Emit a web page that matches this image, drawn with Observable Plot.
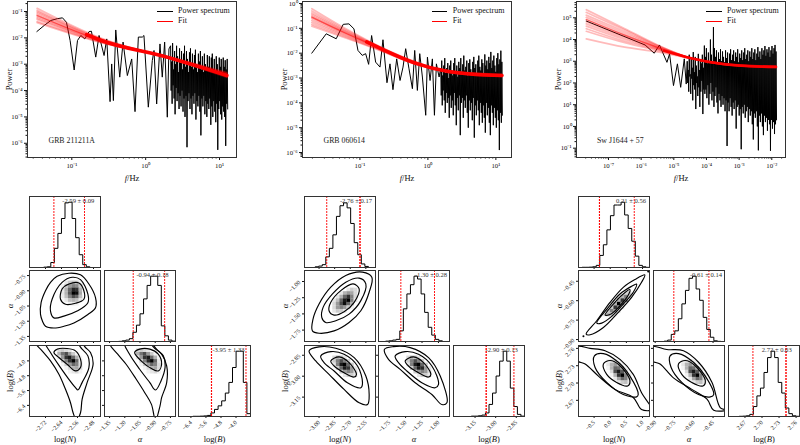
<!DOCTYPE html>
<html><head><meta charset="utf-8">
<script src="https://cdn.jsdelivr.net/npm/d3@7"></script>
<script src="https://cdn.jsdelivr.net/npm/@observablehq/plot@0.6"></script>
<style>
html,body{margin:0;padding:0;background:#fff;overflow:hidden}
#root{position:relative;width:800px;height:445px;font-family:"Liberation Serif",serif;color:#111}
#root svg{position:absolute;max-width:none;height:auto}
.lg{position:absolute;font-size:8px;line-height:10px;white-space:nowrap}
.sw{position:absolute;height:1.2px}
</style></head><body><div id="root"></div>
<script>
// ---------- spectra (log10 f, log10 P) ----------
const s1F=[-1.473,-1.374,-1.284,-1.194,-1.126,-1.072,-1.023,-.968,-.923,-.878,-.824,-.766,-.734,-.676,-.631,-.563,-.527,-.482,-.46,-.437,-.405,-.351,-.306,-.248,-.189,-.144,-.099,-.045,-.023,.036,.09,.113,.149,.194,.225,.257,.293,.315];
const s1P=[-1.76,-1.53,-1.34,-1.27,-1.24,-1.41,-2.10,-3.22,-2.10,-1.91,-2.04,-1.76,-1.75,-2.73,-1.91,-2.67,-2.04,-4.42,-2.99,-4.38,-1.70,-3.49,-2.16,-3.43,-2.80,-4.80,-1.97,-1.97,-1.91,-4.63,-2.86,-2.48,-4.51,-2.23,-3.49,-2.16,-5.01,-2.42];
const s1Range=[.338,1.104];
const s1Hi=[-2.3,-2.9,-2.2,-3.2,-2.5,-3.0,-2.3,-2.7,-3.3,-2.4,-2.95,-2.5,-3.2,-2.6,-2.3,-3.1,-2.5,-2.8,-3.3,-2.55,-2.4,-3.1,-2.6,-3.2,-2.65,-2.45,-3.0,-3.3,-2.6,-2.9,-2.5,-3.2,-2.7,-3.3,-2.6,-3.0,-3.2,-2.65,-3.1,-2.7,-3.3,-2.75,-2.6,-3.2,-2.8,-3.3,-2.7,-3.0,-3.3,-2.75,-3.1,-2.8,-3.3,-2.75,-3.1,-2.85,-3.2,-2.8];
const s1Lo=[-4.0,-4.5,-3.8,-4.3,-4.9,-3.9,-4.4,-4.1,-4.7,-4.2,-4.6,-4.0,-4.8,-4.3,-5.0,-4.2,-6.15,-4.4,-4.1,-4.7,-4.3,-4.9,-4.2,-4.5,-4.1,-5.1,-4.4,-4.6,-4.2,-4.8,-5.7,-4.3,-4.6,-4.2,-4.9,-4.4,-5.0,-4.5,-4.7,-4.3,-5.3,-4.6,-5.0,-4.4,-4.8,-5.2,-4.5,-6.25,-4.7,-4.4,-4.9,-5.1,-4.6,-4.8,-5.0,-6.1,-4.5,-4.7];

const s2F=[-1.708,-1.496,-1.349,-1.246,-1.162,-1.088,-1.029,-.966,-.916,-.872,-.828,-.769,-.705,-.661,-.602,-.558,-.514,-.459,-.410,-.366,-.327,-.278,-.228,-.194,-.155,-.120,-.081,-.032,-.007,.032,.066,.096,.125,.165];
const s2P=[-2.0,-1.22,-1.42,-.84,-.82,-1.02,-1.89,-2.09,-2.02,-2.45,-1.29,-2.36,-2.56,-1.46,-3.19,-2.43,-3.47,-2.23,-3.10,-2.56,-1.82,-2.63,-3.43,-1.89,-3.50,-2.02,-2.96,-4.50,-2.16,-3.10,-2.23,-4.50,-2.43,-2.96];
const s2Range=[.189,1.088];
const s2Hi=[-2.6,-2.3,-2.9,-2.5,-2.2,-2.8,-2.6,-2.4,-3.0,-2.5,-2.3,-2.7,-2.9,-2.4,-2.2,-2.75,-2.5,-2.95,-2.35,-2.6,-2.2,-2.8,-2.45,-2.1,-2.7,-2.55,-2.3,-2.9,-2.4,-2.25,-2.65,-2.85,-2.35,-2.15,-2.6,-2.45,-2.8,-2.3,-2.1,-2.55,-2.7,-2.25,-2.4,-2.9,-2.05,-2.5,-2.3,-2.65,-2.15,-2.4,-1.95,-2.6,-2.3,-2.1,-2.5,-2.75,-2.2,-2.0,-2.45,-2.25,-1.9,-2.35];
const s2Lo=[-3.7,-4.1,-3.5,-3.9,-4.4,-3.6,-4.0,-3.8,-4.6,-3.7,-4.2,-3.9,-4.5,-3.6,-4.1,-4.9,-3.8,-4.3,-3.7,-5.3,-4.0,-3.8,-4.6,-3.9,-4.2,-3.7,-4.4,-5.0,-3.9,-4.3,-4.0,-4.7,-3.8,-5.4,-4.1,-4.5,-3.9,-4.3,-4.9,-4.0,-4.4,-4.8,-4.1,-4.6,-5.2,-4.0,-4.5,-4.2,-4.8,-5.3,-4.1,-4.4,-4.9,-4.2,-4.6,-5.0,-4.3,-4.7,-5.9,-4.4,-4.8,-4.5];

const s3F=[-7.68,-5.88,-5.60,-5.44,-5.21,-5.13,-5.01,-4.89,-4.79,-4.68,-4.62];
const s3P=[4.85,3.75,3.37,3.75,2.95,3.34,1.88,2.88,1.80,3.11,1.95];
const s3Range=[-4.59,-1.87];
const s3Hi=[3.0,2.6,3.3,2.4,3.1,2.7,3.42,2.5,3.2,2.8,2.3,3.34,2.6,3.0,2.9,3.3,2.7,3.72,3.2,3.6,2.9,3.4,3.0,4.0,3.3,2.9,4.57,3.6,3.2,3.5,2.9,3.4,3.1,3.55,3.0,3.45,3.2,2.95,3.5,3.15,3.4,2.9,3.35,3.55,3.05,3.3,3.5,3.0,3.4,3.2,3.55,2.95,3.35,3.15,3.5,3.05,3.4,3.6,3.1,3.3,3.5,3.0,3.45,3.2,3.6,3.1,3.4,3.55,3.05,3.35,3.65,3.2,3.45,3.1,3.6,3.3,3.5,3.7,3.25,3.55,3.4,3.65,3.2,3.5,3.7,3.35,3.6,3.75,3.45];
const s3Lo=[2.0,1.6,2.3,1.5,2.2,1.2,1.9,1.7,0.8,2.0,1.4,1.8,0.9,1.6,2.1,0.57,1.7,1.5,1.7,1.3,1.9,1.0,1.5,2.0,1.2,1.6,0.9,1.4,1.8,1.1,0.6,1.5,1.2,0.9,1.4,1.0,1.3,0.7,1.2,-0.9,1.1,0.7,1.3,0.9,0.5,1.1,0.8,1.2,-0.1,0.9,1.0,0.5,0.8,-1.05,0.9,0.6,1.0,0.4,0.7,0.9,0.2,0.8,0.5,0.7,0.1,-0.6,0.6,0.4,0.7,0.0,-1.1,0.5,0.2,0.6,0.0,-0.4,0.5,0.2,0.4,-0.2,0.3,0.1,-1.12,0.3,-0.1,0.2,-0.35,0.1,0.3];

// ---------- fitted model draws (log10 P at knots) ----------
const fit1Knots=[-1.47,-0.6,0.3,1.1];
const fit1Lines=[[-0.88,-2.02,-2.76,-3.50],[-0.95,-2.04,-2.76,-3.47],[-1.00,-2.06,-2.75,-3.45],[-1.05,-2.07,-2.74,-3.44],[-1.10,-2.09,-2.74,-3.43],[-1.15,-2.10,-2.74,-3.42],[-1.20,-2.12,-2.73,-3.40],[-1.25,-2.13,-2.73,-3.38],[-1.30,-2.15,-2.72,-3.36],[-1.38,-2.17,-2.72,-3.33],[-1.42,-2.18,-2.71,-3.32]];
const fit1CoreF=[-0.8,-0.6,0.3,1.1], fit1Core=[-1.88,-2.10,-2.74,-3.43];
const fit2Knots=[-1.708,-1.2,-.7,-.2,.3,1.09];
const fit2Lines=[[-0.21,-1.03,-1.74,-2.33,-2.76,-2.94],[-0.30,-1.08,-1.76,-2.34,-2.75,-2.93],[-0.38,-1.12,-1.78,-2.36,-2.75,-2.92],[-0.44,-1.15,-1.79,-2.37,-2.74,-2.91],[-0.50,-1.18,-1.80,-2.38,-2.74,-2.90],[-0.55,-1.21,-1.81,-2.39,-2.74,-2.90],[-0.60,-1.24,-1.83,-2.40,-2.73,-2.89],[-0.68,-1.28,-1.84,-2.40,-2.72,-2.88],[-0.76,-1.32,-1.86,-2.41,-2.72,-2.87],[-0.84,-1.36,-1.88,-2.42,-2.71,-2.86],[-0.91,-1.40,-1.90,-2.43,-2.70,-2.85]];
const fit2CoreF=[-0.9,-.7,-.2,.3,.7,1.09], fit2Core=[-1.55,-1.81,-2.39,-2.74,-2.86,-2.90];
const fit3Knots=[-7.68,-6.5,-5.5,-4.5,-3.5,-1.87];
const fit3Lines=[[5.37,4.50,3.75,3.15,2.85,2.72],[5.25,4.44,3.73,3.15,2.85,2.72],[5.12,4.36,3.70,3.15,2.86,2.73],[5.02,4.28,3.67,3.15,2.86,2.73],[4.92,4.20,3.64,3.15,2.87,2.74],[4.82,4.14,3.62,3.15,2.87,2.74],[4.72,4.07,3.59,3.15,2.88,2.74],[4.62,4.00,3.57,3.15,2.88,2.75],[4.50,3.92,3.54,3.14,2.89,2.75],[4.38,3.85,3.50,3.14,2.89,2.76],[4.03,3.65,3.43,3.13,2.90,2.76]];
const fit3CoreF=[-5.3,-4.5,-3.5,-2.7,-1.87], fit3Core=[3.48,3.15,2.87,2.77,2.74];

// ---------- corner plot: axis ranges and ticks ----------
const rN1=[-2.80,-2.445], rA1=[-1.40,-0.70], rA1x=[-1.40,-0.70], rB1=[-7.0,-3.17], rB1x=[-7.06,-3.23];
const tN1=[-2.72,-2.64,-2.56,-2.48], tA1=[-1.35,-1.20,-1.05,-0.90,-0.75], tB1=[-6.4,-5.6,-4.8,-4.0];
const rN2=[-3.14,-2.457], rA2=[-1.926,-.83], rA2x=[-1.912,-.832], rB2=[-3.289,-2.78], rB2x=[-3.307,-2.79];
const tN2=[-3.00,-2.85,-2.70,-2.55], tA2=[-1.75,-1.50,-1.25,-1.00], tB2=[-3.15,-3.00,-2.85];
const rN3=[-.983,1.216], rA3=[-.915,-.367], rA3x=[-.913,-.361], rB3=[2.642,2.765], rB3x=[2.641,2.766];
const tN3=[-0.5,0,0.5,1.0], tA3=[-.90,-.75,-.60,-.45], tB3=[2.67,2.70,2.73,2.76];

// ---------- histograms (20 bins, relative height) ----------
const h1N=[0,0,0,0,.005,.01,.07,.27,.48,.69,.91,.92,.69,.42,.18,.04,.01,0,0,0];
const h1A=[0,0,0,0,.002,.01,.02,.04,.13,.23,.39,.6,.79,.92,.92,.79,.22,.08,.02,.005];
const h1B=[0,0,0,0,.003,.003,.005,.008,.015,.05,.1,.15,.22,.33,.48,.69,.92,.92,.48,.04];
const h2N=[0,0,0,.01,.02,.04,.15,.27,.46,.72,.87,.91,.84,.62,.35,.18,.05,.015,0,0];
const h2A=[0,0,.005,.01,.02,.03,.15,.46,.67,.80,.92,.88,.67,.41,.2,.09,.03,.01,0,0];
const h2B=[0,0,0,0,0,.005,.005,.01,.02,.05,.17,.33,.57,.78,.92,.78,.4,.14,.03,.005];
const h3N=[0,.003,.003,.005,.01,.03,.17,.32,.53,.73,.88,.88,.92,.74,.55,.37,.16,.03,.01,.002];
const h3A=[0,0,0,.005,.02,.1,.15,.32,.53,.72,.89,.92,.74,.58,.34,.17,.06,.01,.002,0];
const h3B=[0,0,0,.003,.005,.01,.03,.14,.29,.4,.62,.83,.92,.83,.48,.33,.12,.04,.01,.003];

// ---------- quantile lines and labels ----------
const q1=[[-2.678,-2.525],[-1.117,-.807],[-5.31,-5.30,-3.47]];
const q2=[[-2.926,-2.608,-2.604],[-1.572,-1.06],[-3.07,-3.068,-2.867]];
const q3=[[-.336,-.332,.744],[-.755,-.482],[2.684,2.742,2.7425]];
const lab1=["-2.59 ± 0.09","-0.94 ± 0.18","-3.95 ± 1.33"];
const lab2=["-2.76 ± 0.17","-1.30 ± 0.28","-2.90 ± 0.13"];
const lab3=["0.21 ± 0.56","-0.61 ± 0.14","2.72 ± 0.03"];

// ---------- contours: [outer x, outer y, middle x, middle y, inner x, inner y] ----------
const c1AN=[[-2.745,-2.742,-2.72,-2.695,-2.662,-2.603,-2.545,-2.503,-2.47,-2.47,-2.508,-2.578,-2.628,-2.678,-2.72,-2.735],[-1.133,-1.017,-.90,-.817,-.757,-.727,-.743,-.833,-.967,-1.067,-1.133,-1.217,-1.25,-1.267,-1.25,-1.20],
 [-2.695,-2.687,-2.637,-2.587,-2.545,-2.508,-2.508,-2.562,-2.628,-2.678],[-1.10,-.983,-.817,-.767,-.79,-.933,-1.017,-1.10,-1.15,-1.167],
 [-2.645,-2.637,-2.603,-2.553,-2.528,-2.528,-2.57,-2.62],[-.983,-.883,-.833,-.823,-.90,-.983,-1.023,-1.033]];
const c1BN=[[-2.77,-2.737,-2.695,-2.653,-2.62,-2.595,-2.582,-2.565,-2.545,-2.537,-2.512,-2.482,-2.495,-2.52,-2.545],[-3.0,-3.458,-4.0,-4.722,-5.534,-6.256,-6.798,-7.2,-6.798,-6.076,-5.173,-4.18,-3.549,-3.278,-3.0],
 [-2.72,-2.695,-2.645,-2.603,-2.57,-2.558,-2.537,-2.503,-2.508,-2.537,-2.57],[-3.0,-3.549,-4.361,-4.993,-5.444,-5.57,-5.173,-4.361,-3.729,-3.368,-3.0],
 [-2.678,-2.662,-2.612,-2.57,-2.545,-2.545,-2.57,-2.612,-2.653],[-3.549,-3.368,-3.332,-3.458,-3.91,-4.361,-4.542,-4.18,-3.819]];
const c1BA=[[-1.353,-1.27,-1.187,-1.087,-1.003,-.937,-.897,-.853,-.837,-.787,-.787,-.837,-.903,-.97],[-3.0,-3.639,-4.18,-4.993,-5.715,-6.347,-7.2,-6.437,-5.986,-5.173,-4.271,-3.639,-3.332,-3.0],
 [-1.203,-1.153,-1.053,-.953,-.897,-.843,-.803,-.82,-.887,-.953],[-3.0,-3.639,-4.451,-5.173,-5.57,-5.083,-4.361,-3.729,-3.368,-3.0],
 [-1.103,-1.053,-.953,-.87,-.837,-.87,-.937,-1.02],[-3.549,-3.368,-3.368,-3.639,-4.18,-4.542,-4.415,-4.09]];
const c2AN=[[-3.064,-3.058,-3,-2.887,-2.743,-2.582,-2.492,-2.518,-2.598,-2.711,-2.855,-3],[-1.762,-1.58,-1.347,-1.088,-.907,-.855,-.933,-1.166,-1.451,-1.632,-1.762,-1.798],
 [-2.974,-2.961,-2.871,-2.743,-2.614,-2.55,-2.598,-2.711,-2.839,-2.936],[-1.554,-1.399,-1.192,-1.01,-.948,-1.036,-1.295,-1.503,-1.606,-1.632],
 [-2.904,-2.887,-2.791,-2.672,-2.614,-2.662,-2.759,-2.855],[-1.451,-1.321,-1.14,-1.036,-1.114,-1.321,-1.466,-1.518]];
const c2BN=[[-3.096,-3,-2.839,-2.662,-2.55,-2.518,-2.534,-2.614,-2.759,-2.904,-3.032],[-2.819,-2.79,-2.80,-2.867,-2.999,-3.131,-3.203,-3.191,-3.095,-2.987,-2.891],
 [-2.984,-2.887,-2.759,-2.63,-2.582,-2.598,-2.727,-2.855,-2.952],[-2.855,-2.824,-2.843,-2.927,-3.047,-3.083,-3.047,-2.963,-2.903],
 [-2.887,-2.807,-2.711,-2.64,-2.662,-2.759,-2.855],[-2.891,-2.862,-2.903,-2.987,-3.006,-2.975,-2.927]];
const c2BA=[[-1.821,-1.684,-1.43,-1.151,-.973,-.872,-.948,-1.10,-1.354,-1.582,-1.76],[-2.807,-2.788,-2.795,-2.867,-2.999,-3.191,-3.203,-3.131,-3.047,-2.951,-2.879],
 [-1.659,-1.506,-1.303,-1.10,-.999,-1.05,-1.253,-1.481,-1.608],[-2.855,-2.824,-2.843,-2.927,-3.059,-3.083,-3.047,-2.963,-2.903],
 [-1.506,-1.379,-1.227,-1.115,-1.151,-1.303,-1.456],[-2.891,-2.862,-2.903,-2.987,-3.006,-2.975,-2.927]];
const c3AN=[[-.747,-.418,-.007,.404,.764,1.072,.97,.661,.25,-.212,-.623],[-.858,-.755,-.613,-.497,-.437,-.401,-.458,-.574,-.69,-.807,-.863],
 [-.418,-.058,.302,.661,.815,.713,.404,.045,-.264],[-.773,-.652,-.548,-.489,-.471,-.535,-.626,-.721,-.773],
 [-.161,.096,.404,.61,.559,.302,.024],[-.711,-.626,-.548,-.515,-.556,-.639,-.703]];
const c3BN=[[-1.034,-.623,-.161,.302,.713,.97,1.278,.97,.713,.147,-.366,-.777,-1.034],[2.763,2.76,2.756,2.741,2.715,2.683,2.654,2.654,2.675,2.689,2.712,2.733,2.739],
 [-.49,-.212,.25,.61,.867,.815,.404,-.109,-.469],[2.747,2.751,2.736,2.712,2.68,2.676,2.68,2.701,2.727],
 [-.212,-.007,.302,.61,.538,.199,-.109],[2.733,2.739,2.73,2.704,2.695,2.701,2.715]];
const c3BA=[[-.927,-.81,-.68,-.563,-.458,-.393,-.341,-.445,-.497,-.615,-.758,-.862,-.927],[2.763,2.758,2.756,2.736,2.701,2.657,2.653,2.653,2.672,2.689,2.709,2.733,2.739],
 [-.784,-.719,-.602,-.51,-.445,-.471,-.563,-.693,-.776],[2.747,2.751,2.736,2.712,2.68,2.676,2.68,2.701,2.727],
 [-.719,-.667,-.589,-.51,-.529,-.615,-.693],[2.733,2.739,2.73,2.704,2.695,2.701,2.715]];
const out3ANx=[-.83,1.175], out3ANy=[-.875,-.375];

// ---------- 2D histogram density: first column, first row (from top), rows ----------
const d1AN=[9,3,[[0,.1,.2,.25,.2,.05,0],[.05,.2,.4,.5,.45,.2,0],[.1,.3,.6,.85,.8,.3,.02],[.1,.3,.65,1,.95,.35,.02],[.08,.25,.5,.7,.6,.25,0],[.03,.1,.25,.3,.25,.1,0],[0,.02,.05,.08,.05,0,0]]];
const d1BN=[8,1,[[.15,.2,.15,.1,0,0,0],[.3,.55,.7,.4,.2,.05,0],[.1,.4,.8,.9,.6,.3,.05],[0,.2,.5,.8,1,.6,.1],[0,.05,.2,.4,.6,.5,.15],[0,0,.05,.15,.3,.35,.15],[0,0,0,.05,.1,.15,.05]]];
const d1BA=[9,1,[[.15,.2,.15,.1,0,0,0],[.3,.55,.7,.4,.2,.05,0],[.1,.4,.8,.9,.6,.3,.05],[0,.2,.5,.85,1,.6,.1],[0,.05,.2,.4,.6,.5,.15],[0,0,.05,.15,.3,.35,.15],[0,0,0,.05,.1,.15,.05]]];
const d2AN=[8,5,[[0,0,0,0,.1,.2,.15],[0,0,.1,.3,.4,.35,.15],[0,.1,.3,.6,.8,.5,.15],[.1,.25,.6,.9,1,.5,.1],[.15,.4,.7,.95,.6,.3,0],[.15,.4,.5,.4,.2,.05,0],[.1,.2,.2,.1,0,0,0]]];
const d2BN=[8,3,[[.15,.3,.25,.1,0,0,0],[.2,.5,.7,.5,.2,0,0],[.1,.5,.9,1,.6,.2,0],[0,.2,.6,.9,.8,.4,.1],[0,0,.2,.4,.5,.4,.15],[0,0,0,.1,.2,.2,.1]]];
const d2BA=[8,3,[[.15,.3,.25,.1,0,0,0],[.2,.5,.7,.5,.2,0,0],[.1,.5,.9,1,.6,.2,0],[0,.2,.6,.9,.85,.4,.1],[0,0,.2,.4,.5,.4,.15],[0,0,0,.1,.2,.2,.1]]];
const d3AN=[7,6,[[0,0,0,0,0,0,.15,.2],[0,0,0,0,.05,.3,.5,.2],[0,0,0,0,.3,.8,.5,0],[0,0,.05,.3,1,.5,0,0],[0,0,.2,.8,.5,.1,0,0],[0,.2,.5,.4,.1,0,0,0],[.1,.3,.2,.05,0,0,0,0]]];
const d3BN=[8,4,[[.05,.1,.15,.05,0,0,0],[.1,.3,.4,.25,.05,0,0],[.05,.3,.6,.55,.3,.05,0],[0,.15,.7,.9,.65,.25,.03],[0,.05,.3,.8,1,.5,.1],[0,0,.1,.35,.6,.5,.15],[0,0,0,.1,.2,.25,.1]]];
const d3BA=[8,4,[[.05,.1,.15,.05,0,0,0],[.1,.3,.4,.25,.05,0,0],[.05,.3,.6,.55,.3,.05,0],[0,.15,.7,.9,.65,.25,.03],[0,.05,.3,.8,1,.5,.1],[0,0,.1,.35,.6,.5,.15],[0,0,0,.1,.2,.25,.1]]];

// ---------- text ----------
const specNames=["GRB 211211A","GRB 060614","Sw J1644 + 57"];
const legendNames=["Power spectrum","Fit"];

// ---------- drawing ----------
const root=document.getElementById("root");
const FONT='"Liberation Serif",serif';
const SUP={"-":"⁻","0":"⁰","1":"¹","2":"²","3":"³","4":"⁴","5":"⁵","6":"⁶","7":"⁷"};
const pow10=d=>"10"+String(Math.round(Math.log10(d))).split("").map(c=>SUP[c]).join("");
function minorTicks(a,b){const t=[];for(let k=a;k<b;k++)for(let m=2;m<10;m++)t.push(m*10**k);return t;}
function put(svg,x,y){
  d3.select(svg).selectAll("text").each(function(){
    const t=this.textContent;
    const it=s=>`<tspan font-style="italic">${s}</tspan>`;
    if(t==="log(N)")this.innerHTML="log("+it("N")+")";
    if(t==="log(B)")this.innerHTML="log("+it("B")+")";
    if(t==="α")this.innerHTML=it("α");
    if(t==="f/Hz")this.innerHTML=it("f")+"/Hz";
  });
  svg.style.left=x+"px";svg.style.top=y+"px";root.appendChild(svg);
}
function topPanel(o){
  const ml=30,mb=28,mt=1,mr=1;
  const lin=[];
  o.f.forEach((v,i)=>lin.push({x:10**v,y:10**o.p[i]}));
  const n=Math.min(o.hi.length,o.lo.length),st=(o.range[1]-o.range[0])/(n-1);
  for(let i=0;i<n;i++){
    lin.push({x:10**(o.range[0]+i*st),y:10**o.hi[i]});
    lin.push({x:10**(o.range[0]+(i+.5)*st),y:10**o.lo[i]});
  }
  const fan=[];
  o.fits.forEach((l,j)=>l.forEach((v,i)=>fan.push({x:10**o.knots[i],y:10**v,z:j})));
  const core=o.coreF.map((v,i)=>({x:10**v,y:10**o.core[i]}));
  const centre=o.knots.map((v,i)=>({x:10**v,y:10**o.fits[o.mid][i]}));
  const svg=Plot.plot({
    width:Math.round(o.w)+ml+mr,height:156+mt+mb,marginLeft:ml,marginRight:mr,marginTop:mt,marginBottom:mb,
    style:{background:"none",overflow:"visible",fontFamily:FONT},
    x:{type:"log",domain:o.xd,axis:null},y:{type:"log",domain:o.yd,axis:null},
    marks:[
      Plot.line(lin,{x:"x",y:"y",stroke:"#000",strokeWidth:1,curve:"linear"}),
      Plot.line(fan,{x:"x",y:"y",z:"z",stroke:"#ff0000",strokeOpacity:.27,strokeWidth:1.7,curve:"monotone-x"}),
      Plot.line(centre,{x:"x",y:"y",stroke:"#f00",strokeOpacity:.5,strokeWidth:1.2,curve:"monotone-x"}),
      Plot.line(core,{x:"x",y:"y",stroke:"#f00",strokeWidth:o.coreW,curve:"monotone-x"}),
      Plot.axisX({ticks:minorTicks(o.xk[0]-1,o.xk[1]+1).filter(d=>d>=o.xd[0]&&d<=o.xd[1]),tickSize:1.5,tickFormat:()=>"",label:null}),
      Plot.axisY({ticks:minorTicks(o.yk[0]-1,o.yk[1]+1).filter(d=>d>=o.yd[0]&&d<=o.yd[1]),tickSize:1.5,tickFormat:()=>"",label:null}),
      Plot.axisX({ticks:d3.range(o.xk[0],o.xk[1]+1).map(k=>10**k),tickSize:3,tickPadding:3,tickFormat:pow10,fontSize:6.8,label:"f/Hz",labelArrow:"none",labelAnchor:"center",labelOffset:23}),
      Plot.axisY({ticks:d3.range(o.yk[0],o.yk[1]+1).map(k=>10**k),tickSize:3,tickPadding:2,tickFormat:pow10,fontSize:6.8,label:"Power",labelArrow:"none",labelAnchor:"center",labelOffset:o.yoff}),
      Plot.text([o.name],{frameAnchor:"bottom-left",dx:o.nameDx,dy:-15,fontSize:7.8,fill:"#222",textAnchor:"start"}),
      Plot.frame({stroke:"#333",strokeWidth:1})
    ]});
  d3.select(svg).selectAll('g[aria-label$="axis label"]').attr("font-size",8.5);
  put(svg,o.x-ml,1-mt);
  legendNames.forEach((nm,i)=>{
    const sw=document.createElement("div");sw.className="sw";
    sw.style.cssText=`left:${o.lgx}px;top:${11+i*10}px;width:15.5px;background:${i?"#f00":"#000"}`;
    root.appendChild(sw);
    const lb=document.createElement("div");lb.className="lg";lb.textContent=nm;
    lb.style.left=(o.lgx+21)+"px";lb.style.top=(6+i*10)+"px";root.appendChild(lb);
  });
}
topPanel({x:26.7,w:209.3,xd:[10**-1.6,10**1.23],yd:[10**-6.54,10**-.62],xk:[-1,1],yk:[-6,-1],f:s1F,p:s1P,range:s1Range,hi:s1Hi,lo:s1Lo,knots:fit1Knots,fits:fit1Lines,mid:5,coreF:fit1CoreF,core:fit1Core,coreW:3.6,name:specNames[0],nameDx:21,yoff:22,lgx:157});
topPanel({x:302,w:208.7,xd:[10**-1.845,10**1.23],yd:[10**-6.2,10**.08],xk:[-1,1],yk:[-6,0],f:s2F,p:s2P,range:s2Range,hi:s2Hi,lo:s2Lo,knots:fit2Knots,fits:fit2Lines,mid:5,coreF:fit2CoreF,core:fit2Core,coreW:3.6,name:specNames[1],nameDx:21,yoff:22,lgx:431.7});
topPanel({x:576.3,w:209,xd:[10**-7.98,10**-1.58],yd:[10**-1.43,10**5.75],xk:[-7,-2],yk:[-1,5],f:s3F,p:s3P,range:s3Range,hi:s3Hi,lo:s3Lo,knots:fit3Knots,fits:fit3Lines,mid:4,coreF:fit3CoreF,core:fit3Core,coreW:2.6,name:specNames[2],nameDx:20.5,yoff:22,lgx:706});

const ROWY=[195.7,270,344.7], PH=70.7;
function fmtFor(dec){return d=>d3.format("."+dec+"f")(d);}
function axes(o){
  const a=[];
  const base={tickSize:2,tickRotate:-45,fontSize:6};
  a.push(Plot.axisX({...base,ticks:o.xt,tickPadding:o.xLabel?3:0,tickFormat:o.xLabel?fmtFor(o.xdec):()=>"",label:o.xLabel||null,labelArrow:"none",labelAnchor:"center",labelOffset:25}));
  if(o.yt) a.push(Plot.axisY({...base,ticks:o.yt,tickPadding:o.yLabel?3:0,tickFormat:o.yLabel?fmtFor(o.ydec):()=>"",label:o.yLabel||null,labelArrow:"none",labelAnchor:"center",labelOffset:23}));
  return a;
}
function svgOf(o,marks){
  const ml=28,mb=30,mt=1,mr=1;
  const svg=Plot.plot({
    width:Math.round(o.w)+ml+mr,height:Math.round(PH)+mt+mb,marginLeft:ml,marginRight:mr,marginTop:mt,marginBottom:mb,
    style:{background:"none",overflow:"visible",fontFamily:FONT},clip:true,
    x:{domain:o.xr,axis:null},y:{domain:o.yr,axis:null},
    color:{type:"linear",domain:[0,1],range:["#ffffff","#000000"]},
    marks:[...marks,...axes(o),Plot.frame({stroke:"#333",strokeWidth:1})]});
  d3.select(svg).selectAll('g[aria-label$="axis label"]').attr("font-size",8.5);
  put(svg,o.x-ml,o.y-mt);
}
function histPanel(o,h,q,lab,dx){
  const bw=(o.xr[1]-o.xr[0])/20;
  const rows=h.map((v,i)=>({x:o.xr[0]+i*bw,y:v}));rows.push({x:o.xr[1],y:h[19]});
  svgOf({...o,yr:[0,1]},[
    Plot.line(rows,{x:"x",y:"y",stroke:"#000",strokeWidth:1,curve:"step-after"}),
    Plot.ruleX(q,{stroke:"#f00",strokeDasharray:"2,1",strokeWidth:.9}),
    Plot.text([lab],{frameAnchor:"top",dx,dy:2,fontSize:6.6,fill:"#333"})
  ]);
}
function pairPanel(o,c,d,extra){
  const bx=(o.xr[1]-o.xr[0])/20,by=(o.yr[1]-o.yr[0])/20,cells=[];
  d[2].forEach((row,r)=>row.forEach((v,k)=>{if(v>0){
    const i=d[0]+k,j=d[1]+r;
    cells.push({x1:o.xr[0]+i*bx,x2:o.xr[0]+(i+1)*bx,y1:o.yr[1]-(j+1)*by,y2:o.yr[1]-j*by,v});
  }}));
  const pts=[];
  for(let k=0;k<3;k++)c[2*k].forEach((x,i)=>pts.push({x,y:c[2*k+1][i],z:k}));
  svgOf(o,[
    Plot.rect(cells,{x1:"x1",x2:"x2",y1:"y1",y2:"y2",fill:"v",inset:-.1}),
    Plot.line(pts,{x:"x",y:"y",z:"z",stroke:"#000",strokeWidth:1.15,curve:"catmull-rom-closed"}),
    ...(extra||[])
  ]);
}
function corner(g){
  const [c0,c1,c2]=g.cols;
  const X=col=>({x:col[0],w:col[1]});
  histPanel({...X(c0),y:ROWY[0],xr:g.rN,xt:g.tN,yt:null},g.h[0],g.q[0],g.lab[0],g.dx[0]);
  pairPanel({...X(c0),y:ROWY[1],xr:g.rN,yr:g.rA,xt:g.tN,yt:g.tA,yLabel:"α",ydec:2},g.cAN,g.dAN,g.extraAN);
  histPanel({...X(c1),y:ROWY[1],xr:g.rAx,xt:g.tA,yt:null},g.h[1],g.q[1],g.lab[1],g.dx[1]);
  pairPanel({...X(c0),y:ROWY[2],xr:g.rN,yr:g.rB,xt:g.tN,yt:g.tB,xLabel:"log(N)",yLabel:"log(B)",xdec:g.nDec,ydec:g.bDec},g.cBN,g.dBN);
  pairPanel({...X(c1),y:ROWY[2],xr:g.rAx,yr:g.rB,xt:g.tA,yt:g.tB,xLabel:"α",xdec:2},g.cBA,g.dBA);
  histPanel({...X(c2),y:ROWY[2],xr:g.rBx,xt:g.tB,yt:null,xLabel:"log(B)",xdec:g.bDec},g.h[2],g.q[2],g.lab[2],g.dx[2]);
}
corner({cols:[[28.7,71.3],[103.7,71],[177.7,71.6]],rN:rN1,rA:rA1,rAx:rA1x,rB:rB1,rBx:rB1x,tN:tN1,tA:tA1,tB:tB1,nDec:2,bDec:1,h:[h1N,h1A,h1B],q:q1,lab:lab1,dx:[13.3,12.5,14],cAN:c1AN,cBN:c1BN,cBA:c1BA,dAN:d1AN,dBN:d1BN,dBA:d1BA});
corner({cols:[[303.7,71],[378.3,71],[452.7,71.3]],rN:rN2,rA:rA2,rAx:rA2x,rB:rB2,rBx:rB2x,tN:tN2,tA:tA2,tB:tB2,nDec:2,bDec:2,h:[h2N,h2A,h2B],q:q2,lab:lab2,dx:[16,17,12.7],cAN:c2AN,cBN:c2BN,cBA:c2BA,dAN:d2AN,dBN:d2BN,dBA:d2BA});
corner({cols:[[578.3,71.4],[653.3,70.7],[727.7,70.6]],rN:rN3,rA:rA3,rAx:rA3x,rB:rB3,rBx:rB3x,tN:tN3,tA:tA3,tB:tB3,nDec:1,bDec:2,h:[h3N,h3A,h3B],q:q3,lab:lab3,dx:[17,17,12.7],cAN:c3AN,cBN:c3BN,cBA:c3BA,dAN:d3AN,dBN:d3BN,dBA:d3BA,
  extraAN:[Plot.dot(out3ANx.map((x,i)=>({x,y:out3ANy[i]})),{x:"x",y:"y",r:1,fill:"#000"})]});
</script></body></html>
